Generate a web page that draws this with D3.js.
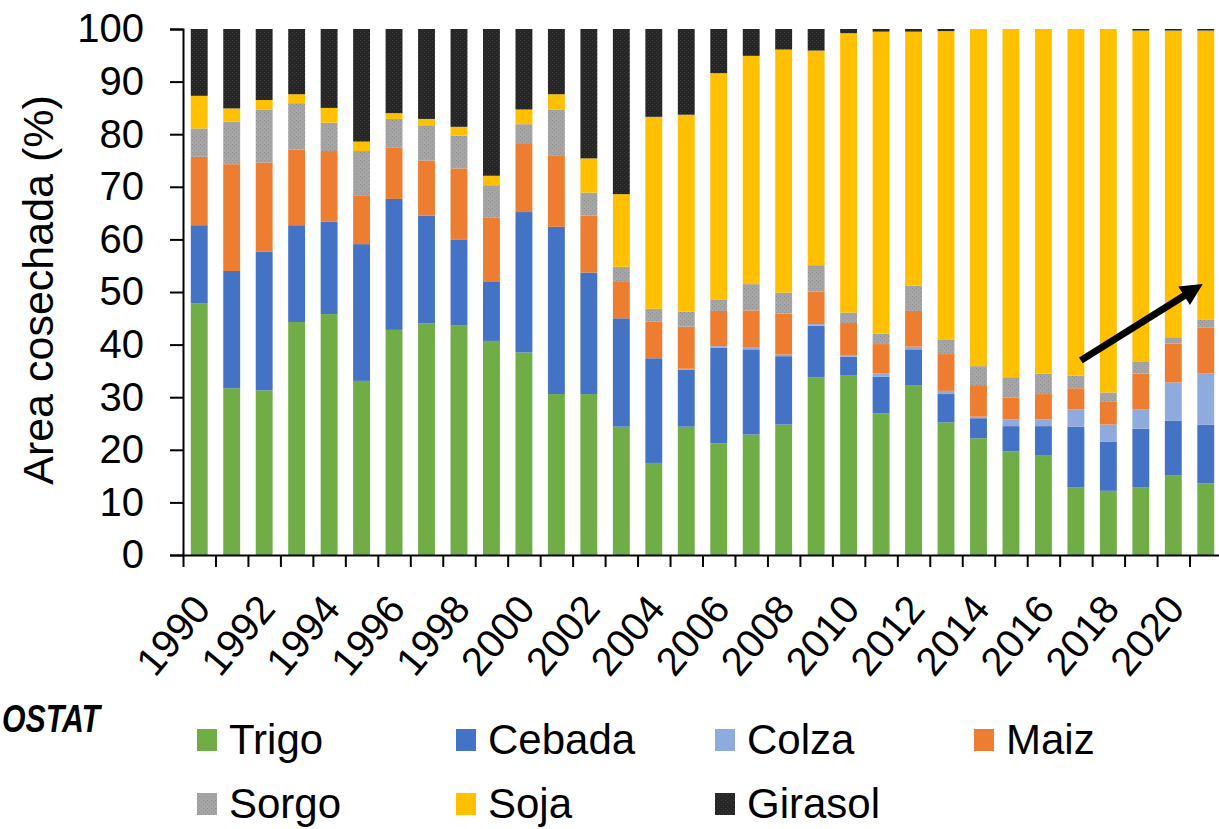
<!DOCTYPE html>
<html>
<head>
<meta charset="utf-8">
<script src="https://cdn.jsdelivr.net/npm/d3@7"></script>
<style>
  html, body { margin: 0; padding: 0; background: #fff; }
  svg { display: block; font-family: "Liberation Sans", Arial, sans-serif; }
</style>
</head>
<body>
<script>
// años (categorías del eje x)
const years = ["1990","1991","1992","1993","1994","1995","1996","1997","1998","1999",
  "2000","2001","2002","2003","2004","2005","2006","2007","2008","2009",
  "2010","2011","2012","2013","2014","2015","2016","2017","2018","2019","2020","2021"];

// % de area cosechada por cultivo
const trigo   = [47.8,31.7,31.3,44.3,45.8,33.1,42.8,44.0,43.6,40.7,38.5,30.6,30.6,24.4,17.5,24.4,21.2,22.9,24.8,33.8,34.1,26.9,32.3,25.2,22.2,19.7,19.0,12.9,12.2,12.9,15.1,13.6];
const cebada  = [14.9,22.3,26.4,18.4,17.6,26.0,24.9,20.5,16.3,11.2,26.7,31.8,23.1,20.6,19.9,10.8,18.2,16.2,13.0,9.8,3.6,7.0,6.8,5.4,3.8,4.8,5.5,11.5,9.3,11.1,10.4,11.2];
const colza   = [0,0,0,0,0,0,0,0,0,0,0,0,0,0,0,0.2,0.3,0.3,0.3,0.3,0.3,0.6,0.5,0.6,0.3,1.3,1.3,3.3,3.3,3.7,7.3,9.7];
const maiz    = [13.0,20.3,16.9,14.4,13.4,9.3,9.7,10.5,13.6,12.3,13.1,13.6,10.8,6.9,7.0,8.0,6.7,7.1,7.8,6.2,6.1,5.6,6.8,7.0,6.0,4.1,4.8,4.0,4.3,6.8,7.4,8.7];
const sorgo   = [5.4,8.1,10.1,8.8,5.4,8.4,5.5,6.7,6.2,6.1,3.6,8.7,4.4,2.9,2.4,2.9,2.2,5.0,4.0,5.0,2.0,2.0,4.8,2.8,3.6,3.9,3.9,2.4,1.8,2.2,1.2,1.5];
const soja    = [6.2,2.5,1.8,1.7,2.8,1.8,1.1,1.2,1.7,1.8,2.8,2.9,6.5,13.8,36.5,37.4,43.0,43.4,46.2,40.8,53.1,57.4,48.3,58.6,64.1,66.2,65.5,65.9,69.1,63.0,58.3,55.0];
const girasol = [12.7,15.1,13.5,12.4,15.0,21.4,16.0,17.1,18.6,27.9,15.3,12.4,24.6,31.4,16.7,16.3,8.4,5.1,3.9,4.1,0.8,0.5,0.5,0.4,0,0,0,0,0,0.3,0.3,0.3];

const keys   = ["Trigo","Cebada","Colza","Maiz","Sorgo","Soja","Girasol"];
const colors = ["#70AD47","#4472C4","#8FAADC","#ED7D31","#A5A5A5","#FFC000","#262626"];
const yTicks = [0,10,20,30,40,50,60,70,80,90,100];

// flecha: desde (año, %) hasta (año, %)
const arrowFrom = ["2017", 37];
const arrowTo   = ["2021", 51.5];

const W = 1219, H = 829;
const mLeft = 183, mRight = 1222, mTop = 29, mBottom = 555;

const svg = d3.select("body").append("svg").attr("width", W).attr("height", H);

// textura punteada para sorgo y girasol
const defs = svg.append("defs");
[["Sorgo", "#A5A5A5", "#939393"], ["Girasol", "#262626", "#3a3a3a"]].forEach(function(p) {
  var pat = defs.append("pattern")
    .attr("id", "tex" + p[0])
    .attr("patternUnits", "userSpaceOnUse")
    .attr("width", 4).attr("height", 4);
  pat.append("rect").attr("width", 4).attr("height", 4).attr("fill", p[1]);
  pat.append("rect").attr("x", 0).attr("y", 0).attr("width", 1).attr("height", 1).attr("fill", p[2]);
  pat.append("rect").attr("x", 2).attr("y", 2).attr("width", 1).attr("height", 1).attr("fill", p[2]);
});
function fillFor(k) {
  if (k === "Sorgo" || k === "Girasol") return "url(#tex" + k + ")";
  return color(k);
}

const series = [trigo, cebada, colza, maiz, sorgo, soja, girasol];
const datos = years.map(function(yr, i) {
  var row = { year: yr };
  keys.forEach(function(k, j) { row[k] = series[j][i]; });
  return row;
});

const x = d3.scaleBand().domain(years).range([mLeft, mRight]).paddingInner(0.48).paddingOuter(0.24);
const y = d3.scaleLinear().domain([0, 100]).range([mBottom, mTop]);
const color = d3.scaleOrdinal().domain(keys).range(colors);

const stacked = d3.stack().keys(keys)(datos);

svg.append("g")
  .selectAll("g")
  .data(stacked)
  .join("g")
  .attr("fill", d => fillFor(d.key))
  .selectAll("rect")
  .data(d => d)
  .join("rect")
  .attr("x", d => x(d.data.year))
  .attr("width", x.bandwidth())
  .attr("y", d => y(d[1]))
  .attr("height", d => Math.max(0, y(d[0]) - y(d[1])));

// eje y
const yAxis = svg.append("g")
  .attr("transform", "translate(" + mLeft + ",0)")
  .call(d3.axisLeft(y).tickValues(yTicks).tickSize(13).tickPadding(26));
yAxis.selectAll("text").attr("font-size", 40).attr("fill", "#000").attr("font-family", "Liberation Sans, Arial, sans-serif");
yAxis.selectAll("line, path").attr("stroke", "#000").attr("stroke-width", 2);

// eje x: ticks en los limites de cada barra
const xEdge = d3.scaleLinear().domain([0, years.length]).range([mLeft, mRight]);
const xTicks = svg.append("g")
  .attr("transform", "translate(0," + mBottom + ")")
  .call(d3.axisBottom(xEdge).tickValues(d3.range(years.length + 1)).tickSize(12).tickSizeOuter(0).tickFormat(""));
xTicks.selectAll("line, path").attr("stroke", "#000").attr("stroke-width", 2);

// etiquetas de años (cada dos)
svg.append("g")
  .selectAll("text")
  .data(years.filter((d, i) => i % 2 === 0))
  .join("text")
  .attr("transform", d => "translate(" + (x(d) + x.bandwidth() / 2 + 13) + "," + (mBottom + 55) + ") rotate(-50)")
  .attr("text-anchor", "end")
  .attr("font-size", 40)
  .attr("fill", "#000")
  .text(d => d);

// titulo eje y
svg.append("text")
  .attr("transform", "translate(53,290) rotate(-90)")
  .attr("text-anchor", "middle")
  .attr("font-size", 43)
  .attr("fill", "#000")
  .text("Area cosechada (%)");

// fuente (lo que se ve en el borde izquierdo)
svg.append("text")
  .attr("x", 2)
  .attr("y", 732)
  .attr("textLength", 98)
  .attr("lengthAdjust", "spacingAndGlyphs")
  .attr("font-weight", "bold")
  .attr("font-style", "italic")
  .attr("font-size", 38)
  .attr("fill", "#000")
  .text("OSTAT");

// leyenda
const legend = svg.append("g")
  .selectAll("g")
  .data(keys)
  .join("g")
  .attr("transform", (d, i) => "translate(" + (197 + (i % 4) * 259) + "," + (754 + Math.floor(i / 4) * 64) + ")");
legend.append("rect")
  .attr("x", 0).attr("y", -25)
  .attr("width", 20).attr("height", 22)
  .attr("fill", d => fillFor(d));
legend.append("text")
  .attr("x", 32).attr("y", 0)
  .attr("font-size", 42)
  .attr("fill", "#000")
  .text(d => d);

// flecha
const x0 = x(arrowFrom[0]) + x.bandwidth() / 2 + 5, y0 = y(arrowFrom[1]);
const x1 = x(arrowTo[0]) + x.bandwidth() / 2 - 3, y1 = y(arrowTo[1]);
const ang = Math.atan2(y1 - y0, x1 - x0);
const headLen = 22, headW = 11;
svg.append("line")
  .attr("x1", x0).attr("y1", y0)
  .attr("x2", x1 - Math.cos(ang) * headLen * 0.8).attr("y2", y1 - Math.sin(ang) * headLen * 0.8)
  .attr("stroke", "#000").attr("stroke-width", 7);
const bx = x1 - Math.cos(ang) * headLen, by = y1 - Math.sin(ang) * headLen;
svg.append("path")
  .attr("d", "M" + x1 + "," + y1 +
    "L" + (bx - Math.sin(ang) * headW) + "," + (by + Math.cos(ang) * headW) +
    "L" + (bx + Math.sin(ang) * headW) + "," + (by - Math.cos(ang) * headW) + "Z")
  .attr("fill", "#000");
</script>
</body>
</html>
